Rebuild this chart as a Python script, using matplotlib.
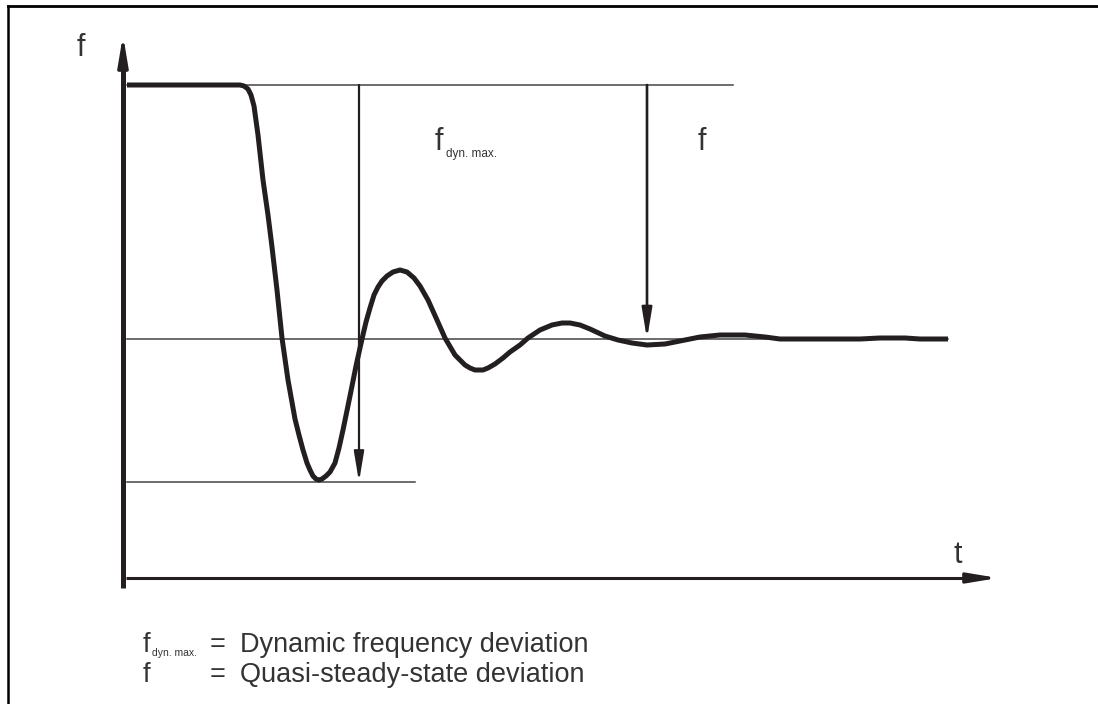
import matplotlib
matplotlib.use("Agg")
import matplotlib.pyplot as plt
from matplotlib.lines import Line2D

# Frequency response after a load step (schematic units: t to the right, f upward)
curve_t = [4, 117, 121, 125, 128, 131, 135, 140, 145, 149, 154, 159, 165, 172,
           176, 180, 184, 187, 190, 193, 196, 199, 203, 207, 212, 216, 220, 227,
           233, 239, 243, 247, 251, 255, 259, 264, 270, 277, 284, 291, 297, 305,
           314, 322, 332, 342, 347, 352, 356, 360, 365, 372, 380, 387, 397, 405,
           417, 429, 439, 447, 457, 467, 482, 495, 509, 524, 542, 557, 577, 597,
           610, 622, 642, 657, 737, 757, 782, 797, 825]
curve_f = [493, 493, 492, 489, 483, 472, 443, 398, 363, 331, 288, 240, 198, 159,
           143, 128, 115, 108, 102, 99, 98, 99, 102, 106, 115, 130, 148, 182,
           212, 239, 256, 270, 283, 291, 297, 302, 306, 308, 306, 300, 292, 278,
           258, 240, 223, 213, 210, 208, 208, 208, 210, 214, 220, 226, 233, 240,
           248, 253, 255, 255, 253, 249, 242, 238, 235, 233, 234, 237, 241, 243,
           243, 243, 241, 239, 239, 240, 240, 239, 239]

f_initial = 493
f_steady = 239
f_lowest = 96

# reference level lines: (level, t_start, t_end)
level_lines = [
    (f_initial, 4, 610),
    (f_steady, 4, 825),
    (f_lowest, 4, 292),
]

t_dyn_arrow = 236
t_qs_arrow = 524

t_axis_end = 875
f_axis_top = 543

legend_rows = [
    ("dyn. max.", "Dynamic frequency deviation"),
    ("", "Quasi-steady-state deviation"),
]

INK = "#231f20"
TEXT = "#333333"
FONT = "Liberation Sans"


def arrow(ax, t0, f0, t1, f1, lw):
    ax.annotate(
        "",
        xy=(t1, f1),
        xytext=(t0, f0),
        arrowprops=dict(
            arrowstyle="-|>,head_length=1.8,head_width=0.3",
            lw=lw,
            color=INK,
            shrinkA=0,
            shrinkB=0,
            mutation_scale=10,
        ),
    )


def main():
    plt.rcParams["font.family"] = [FONT, "DejaVu Sans"]

    fig = plt.figure(figsize=(10.98, 7.04), dpi=100)
    ax = fig.add_axes([0, 0, 1, 1])
    ax.set_xlim(-123, 975)
    ax.set_ylim(-126, 578)
    ax.axis("off")

    # page frame (left and top edges only)
    fig.add_artist(Line2D([8 / 1098, 8 / 1098], [0, 1 - 6 / 704],
                          transform=fig.transFigure, color="black", lw=1.8))
    fig.add_artist(Line2D([8 / 1098, 1], [1 - 6 / 704, 1 - 6 / 704],
                          transform=fig.transFigure, color="black", lw=2.0))

    # axes with arrows
    ax.plot([0, 0], [-10, f_axis_top - 20], color=INK, lw=3.6,
            solid_capstyle="butt")
    arrow(ax, 0, f_axis_top - 30, 0, f_axis_top, 2.4)
    ax.plot([3, t_axis_end - 20], [0, 0], color=INK, lw=2.2,
            solid_capstyle="butt")
    arrow(ax, t_axis_end - 30, 0, t_axis_end, 0, 2.2)

    # level lines
    for level, t0, t1 in level_lines:
        ax.plot([t0, t1], [level, level], color="#444444", lw=1.1)

    # deviation arrows
    arrow(ax, t_dyn_arrow, f_initial, t_dyn_arrow, f_lowest, 1.6)
    arrow(ax, t_qs_arrow, f_initial, t_qs_arrow, f_steady, 1.9)

    # frequency curve
    ax.plot(curve_t, curve_f, color=INK, lw=3.6, solid_joinstyle="round",
            solid_capstyle="butt")

    # axis labels
    ax.text(-46, 522, "f", fontsize=22, color=TEXT, va="baseline")
    ax.text(830, 15, "t", fontsize=22, color=TEXT, va="baseline")

    # deviation labels
    ax.text(312, 428, "f", fontsize=22, color=TEXT, va="baseline")
    ax.text(323, 421, "dyn. max.", fontsize=8.5, color=TEXT, va="baseline")
    ax.text(575, 428, "f", fontsize=22, color=TEXT, va="baseline")

    # legend
    for i, (sub, desc) in enumerate(legend_rows):
        base = -74 - 30 * i
        ax.text(20, base, "f", fontsize=19.5, color=TEXT, va="baseline")
        if sub:
            ax.text(29, base - 4, sub, fontsize=7.5, color=TEXT, va="baseline")
        ax.text(87, base, "=", fontsize=19.5, color=TEXT, va="baseline")
        ax.text(117, base, desc, fontsize=19.5, color=TEXT, va="baseline")

    fig.savefig("out.png", dpi=100)


if __name__ == "__main__":
    main()
